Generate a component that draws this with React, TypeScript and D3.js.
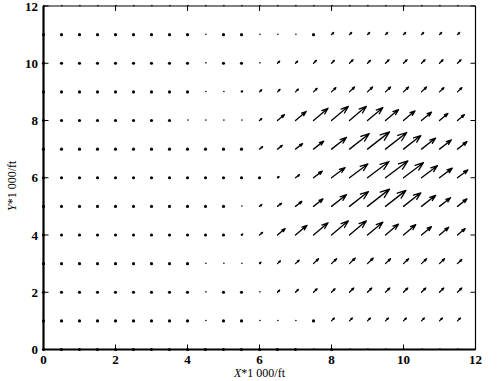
import React from "react";
import * as d3 from "d3";

const X_VALUES = [0, 0.5, 1, 1.5, 2, 2.5, 3, 3.5, 4, 4.5, 5, 5.5, 6, 6.5, 7, 7.5, 8, 8.5, 9, 9.5, 10, 10.5, 11, 11.5];
const Y_VALUES = [0, 1, 2, 3, 4, 5, 6, 7, 8, 9, 10, 11, 12];
const X_TICKS = [0, 2, 4, 6, 8, 10, 12];
const Y_TICKS = [0, 2, 4, 6, 8, 10, 12];

// vector magnitude (screen px) per row, y = 0 .. 12; 0 = zero vector (dot)
const ROW0 = [0, 0, 0, 0, 0, 0, 0, 0, 0, 0, 0, 0, 0, 0, 0, 1, 0, 1, 1, 1, 1, 1, 1, 1];
const ROW1 = [0, 0, 0, 0, 0, 0, 0, 0, 0, 1, 0, 0, 1, 1, 1, 0, 4, 4, 4, 4, 4, 4, 4, 4];
const ROW2 = [0, 0, 0, 0, 0, 0, 0, 0, 0, 1, 0, 0, 1, 3, 4, 5, 5, 6, 6, 6, 6, 6, 6, 6];
const ROW3 = [0, 0, 0, 0, 0, 0, 0, 0, 0, 1, 1, 1, 2, 4, 5, 7, 7, 8, 8, 7, 7, 7, 7, 6];
const ROW4 = [0, 0, 0, 0, 0, 0, 0, 0, 0, 0, 0, 1.5, 4, 10, 15, 19, 22, 22, 20, 17, 16, 13, 12, 10];
const ROW5 = [0, 0, 0, 0, 0, 0, 0, 0, 0, 0, 0, 1, 3, 5, 8, 12, 19, 24, 28, 26, 22, 18, 14, 12];
const ROW6 = [0, 0, 0, 0, 0, 0, 0, 0, 0, 0, 0, 0, 0, 2, 5, 11, 17, 23, 27, 28, 25, 20, 16, 13];
const ROW7 = [0, 0, 0, 0, 0, 0, 0, 0, 0, 0, 0, 0, 4, 6, 9, 13, 19, 25, 28, 27, 22, 18, 15, 12];
const ROW8 = [0, 0, 0, 0, 0, 0, 0, 0, 1, 1, 1, 1, 3, 9, 14, 19, 22, 22, 20, 17, 15, 13, 11, 9];
const ROW9 = [0, 0, 0, 0, 0, 0, 0, 0, 0, 1, 1, 1.5, 3, 3.5, 4, 5, 6, 7, 7, 7, 7, 7, 6, 6];
const ROW10 = [0, 0, 0, 0, 0, 0, 0, 0, 0, 1, 0, 0, 1, 3, 3, 4, 4, 5, 4, 5, 5, 5, 5, 5];
const ROW11 = [0, 0, 0, 0, 0, 0, 0, 0, 0, 1, 0, 0, 1, 1, 1, 0, 3, 3, 3, 3, 3, 3, 3, 3];
const ROW12 = [1, 1, 1, 1, 1, 1, 1, 1, 1, 1, 1, 1, 1, 1, 1, 1, 1, 1, 1, 1, 1, 1, 1, 1];
const MAGNITUDES = [ROW0, ROW1, ROW2, ROW3, ROW4, ROW5, ROW6, ROW7, ROW8, ROW9, ROW10, ROW11, ROW12];
// direction of arrows per row (degrees above horizontal)
const ROW_ANGLES = [45, 45, 45, 44, 40, 38, 37, 38, 40, 44, 45, 45, 45];

const W = 497;
const H = 381;
const M = { left: 43.5, right: 475.5, top: 6, bottom: 349.5 };

export default function App() {
  const x = d3.scaleLinear().domain([0, 12]).range([M.left, M.right]);
  const y = d3.scaleLinear().domain([0, 12]).range([M.bottom, M.top]);

  const marks: React.ReactNode[] = [];
  Y_VALUES.forEach((yv, r) => {
    const a = (ROW_ANGLES[r] * Math.PI) / 180;
    X_VALUES.forEach((xv, c) => {
      const L = MAGNITUDES[r][c];
      const x0 = x(xv);
      const y0 = y(yv);
      const key = `${r}-${c}`;
      if (L === 0) {
        marks.push(<circle key={key} cx={x0} cy={y0} r={1.55} fill="#000" />);
      } else if (L < 1.2) {
        marks.push(<circle key={key} cx={x0 + 0.4} cy={y0 - 0.4} r={0.8} fill="#000" />);
      } else {
        const x1 = x0 + L * Math.cos(a);
        const y1 = y0 - L * Math.sin(a);
        const hl = Math.max(0.33 * L, 1.4);
        const hw = 0.36 * hl;
        const bx = x1 - hl * Math.cos(a);
        const by = y1 + hl * Math.sin(a);
        const px = Math.sin(a) * hw;
        const py = Math.cos(a) * hw;
        const d = `M${x0},${y0}L${x1},${y1}M${bx + px},${by + py}L${x1},${y1}L${bx - px},${by - py}`;
        marks.push(
          <path key={key} d={d} fill="none" stroke="#000" strokeWidth={1.3} strokeLinecap="round" strokeLinejoin="round" />
        );
      }
    });
  });

  const font = "'Liberation Serif', 'Times New Roman', serif";
  const tickLen = 5;

  return (
    <svg width={W} height={H} style={{ position: "absolute", left: 0, top: 0, background: "#fff" }}>
      <rect x={0} y={0} width={W} height={H} fill="#fff" />
      {/* frame */}
      <line x1={M.left} x2={M.right} y1={M.top} y2={M.top} stroke="#000" strokeWidth={1.2} />
      <line x1={M.right} x2={M.right} y1={M.top} y2={M.bottom} stroke="#000" strokeWidth={1.2} />
      <line x1={M.left} x2={M.left} y1={M.top} y2={M.bottom} stroke="#000" strokeWidth={2.2} />
      <line x1={M.left} x2={M.right} y1={M.bottom} y2={M.bottom} stroke="#000" strokeWidth={1.8} />
      {/* ticks */}
      {X_TICKS.map((t) => (
        <g key={`xt${t}`}>
          <line x1={x(t)} x2={x(t)} y1={M.bottom} y2={M.bottom - tickLen} stroke="#000" strokeWidth={1} />
          <line x1={x(t)} x2={x(t)} y1={M.top} y2={M.top + tickLen} stroke="#000" strokeWidth={1} />
          <text x={x(t)} y={364} textAnchor="middle" fontFamily={font} fontSize={13} fontWeight="bold" fill="#000">
            {t}
          </text>
        </g>
      ))}
      {Y_TICKS.map((t) => (
        <g key={`yt${t}`}>
          <line x1={M.left} x2={M.left + tickLen} y1={y(t)} y2={y(t)} stroke="#000" strokeWidth={1} />
          <line x1={M.right} x2={M.right - tickLen} y1={y(t)} y2={y(t)} stroke="#000" strokeWidth={1} />
          <text x={38} y={y(t) + 4.5} textAnchor="end" fontFamily={font} fontSize={13} fontWeight="bold" fill="#000">
            {t}
          </text>
        </g>
      ))}
      {marks}
      {/* axis titles */}
      <text x={(M.left + M.right) / 2} y={377} textAnchor="middle" fontFamily={font} fontSize={12} fill="#000">
        <tspan fontStyle="italic">X</tspan>*1 000/ft
      </text>
      <text
        transform={`translate(16,${(M.top + M.bottom) / 2 + 8}) rotate(-90)`}
        textAnchor="middle"
        fontFamily={font}
        fontSize={12}
        fill="#000"
      >
        <tspan fontStyle="italic">Y</tspan>*1 000/ft
      </text>
    </svg>
  );
}
